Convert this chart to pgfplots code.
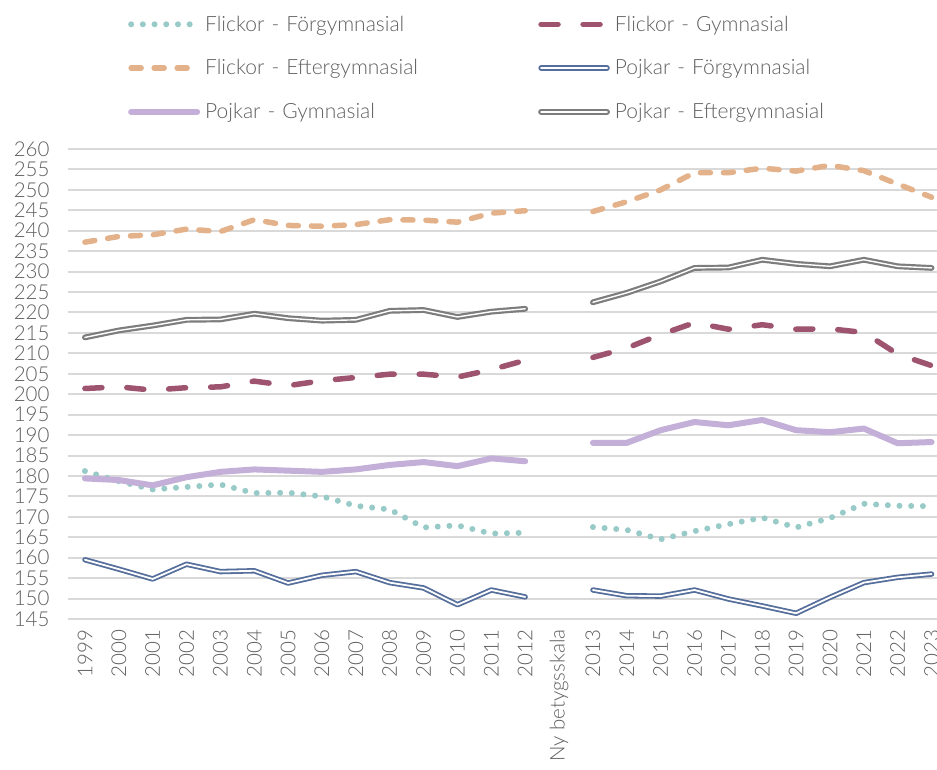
\documentclass[border=0pt]{standalone}
\usepackage{fontspec}
\setmainfont{Lato Light}
\usepackage{pgfplots}
\pgfplotsset{compat=1.18}
\usepackage{pgfplotstable}

\definecolor{cFF}{RGB}{152,203,199}
\definecolor{cFG}{RGB}{158,84,110}
\definecolor{cFE}{RGB}{228,178,138}
\definecolor{cPF}{RGB}{85,110,155}
\definecolor{cPG}{RGB}{195,175,215}
\definecolor{cPE}{RGB}{125,125,125}
\definecolor{gridgray}{RGB}{217,217,217}
\definecolor{labgray}{RGB}{95,95,95}

\pgfplotstableread{
idx FF FG FE PF PG PE
0 181.2 201.4 237.2 159.5 179.4 213.9
1 178.7 201.8 238.6 157.2 179.0 215.6
2 176.7 201.0 239.0 154.8 177.7 216.8
3 177.3 201.6 240.4 158.4 179.7 218.2
4 177.9 201.8 239.8 156.6 181.0 218.3
5 175.8 203.2 242.7 156.8 181.6 219.7
6 175.9 202.1 241.3 153.8 181.3 218.6
7 175.0 203.3 241.1 155.7 181.0 218.0
8 172.7 204.1 241.5 156.6 181.6 218.2
9 171.8 204.9 242.7 153.9 182.7 220.4
10 167.4 204.9 242.6 152.6 183.4 220.6
11 167.9 204.2 242.1 148.5 182.4 218.9
12 165.9 206.0 244.3 152.1 184.3 220.2
13 166.1 208.3 244.9 150.4 183.6 220.9
14 nan nan nan nan nan nan
15 167.5 209.0 244.7 152.1 188.1 222.5
16 166.8 211.3 247.1 150.7 188.1 224.8
17 164.5 214.6 250.0 150.6 191.2 227.6
18 166.5 217.5 254.2 152.1 193.2 230.9
19 168.2 215.9 254.2 149.9 192.4 231.0
20 169.8 217.0 255.3 148.2 193.7 232.9
21 167.4 215.9 254.6 146.4 191.2 231.9
22 169.7 216.0 256.0 150.3 190.7 231.3
23 173.2 215.1 254.7 153.9 191.6 232.9
24 172.7 209.8 251.4 155.2 188.0 231.3
25 172.6 207.0 248.2 156.0 188.3 230.9
}\data

\begin{document}
\begin{tikzpicture}
\begin{axis}[
  scale only axis, width=869pt, height=470pt,
  xmin=-0.5, xmax=25.16, ymin=145, ymax=260,
  ytick={145,150,...,260},
  xtick={0,...,25},
  xticklabels={1999,2000,2001,2002,2003,2004,2005,2006,2007,2008,2009,2010,2011,2012,Ny betygsskala,2013,2014,2015,2016,2017,2018,2019,2020,2021,2022,2023},
  axis line style={draw=none}, major tick length=0pt,
  ymajorgrids, grid style={line width=2pt, color=gridgray},
  unbounded coords=jump,
  clip=false,
  tick label style={font=\fontsize{20.5}{21}\selectfont, text=labgray},
  /pgf/number format/assume math mode=true,
  yticklabel style={anchor=east, xshift=-15pt},
  xticklabel style={rotate=90, anchor=east, xshift=-7pt},
  legend columns=2,
  legend style={draw=none, fill=none, inner sep=0pt,
    at={(0.069,1.29)}, anchor=north west,
    font=\fontsize{21}{23}\selectfont, text=labgray,
    nodes={inner sep=3pt, text width=328pt, align=left},
    /tikz/column sep=2pt, /tikz/row sep=21pt},
  legend image code/.code={\draw[#1] (0pt,0pt) -- (66pt,0pt);},
  every axis plot/.append style={line cap=round, line join=round},
]
\addplot[cFF, line width=6pt, dash pattern=on 0pt off 11.7pt] table[x=idx, y=FF] {\data};
\addlegendentry{Flickor - Förgymnasial}
\addplot[cFG, line width=5.5pt, dash pattern=on 17pt off 25pt] table[x=idx, y=FG] {\data};
\addlegendentry{Flickor - Gymnasial}
\addplot[cFE, line width=5.5pt, dash pattern=on 10pt off 13pt] table[x=idx, y=FE] {\data};
\addlegendentry{Flickor - Eftergymnasial}
\addplot[cPF, line width=1.8pt, double=white, double distance=1.8pt] table[x=idx, y=PF] {\data};
\addlegendentry{Pojkar - Förgymnasial}
\addplot[cPG, line width=6pt] table[x=idx, y=PG] {\data};
\addlegendentry{Pojkar - Gymnasial}
\addplot[cPE, line width=2.2pt, double=white, double distance=1.4pt] table[x=idx, y=PE] {\data};
\addlegendentry{Pojkar - Eftergymnasial}
\end{axis}
\pgfresetboundingbox
\path[use as bounding box] ([xshift=-68pt, yshift=-150pt]current axis.south west) rectangle ([yshift=149pt]current axis.north east);
\end{tikzpicture}
\end{document}
